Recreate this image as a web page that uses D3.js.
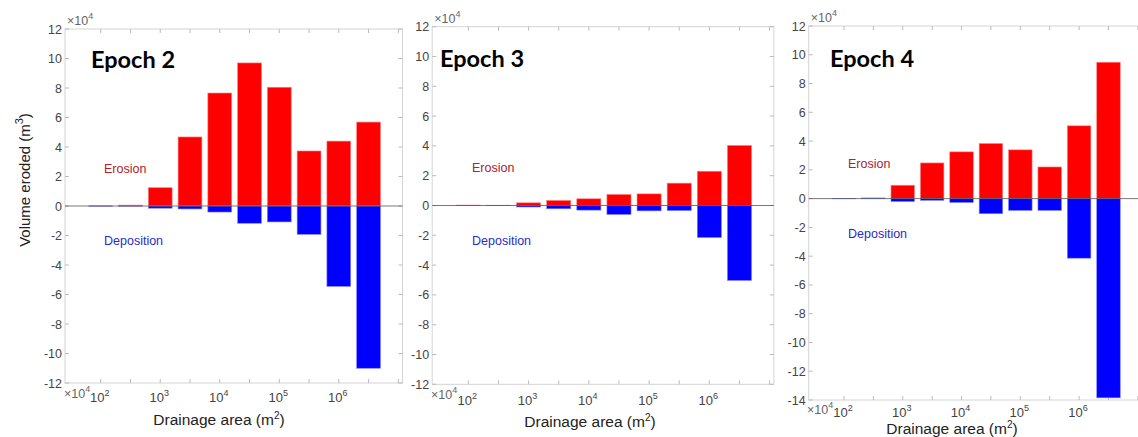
<!DOCTYPE html>
<html>
<head>
<meta charset="utf-8">
<script src="https://d3js.org/d3.v7.min.js"></script>
<style>
	body { margin: 0; background: #fff; }
	text { font-family: "Liberation Sans", Arial, sans-serif; }
</style>
</head>
<body>
<svg id="chart"></svg>
<script>
	// bin centres, as powers of ten (drainage area in m2)
	let binExponents = [2, 2.5, 3, 3.5, 4, 4.5, 5, 5.5, 6, 6.5]

	// volumes in units of 1e4 m3
	let erosionEpoch2 = [0.01, 0.06, 1.24, 4.68, 7.66, 9.7, 8.05, 3.73, 4.4, 5.69]
	let depositionEpoch2 = [-0.01, -0.01, -0.15, -0.2, -0.41, -1.17, -1.08, -1.92, -5.45, -11.0]

	let erosionEpoch3 = [0.03, 0.02, 0.18, 0.34, 0.45, 0.74, 0.78, 1.5, 2.3, 4.03]
	let depositionEpoch3 = [-0.01, -0.01, -0.1, -0.22, -0.31, -0.6, -0.36, -0.34, -2.15, -5.03]

	let erosionEpoch4 = [0.01, 0.05, 0.93, 2.48, 3.25, 3.83, 3.39, 2.2, 5.06, 9.48]
	let depositionEpoch4 = [-0.01, -0.01, -0.2, -0.12, -0.27, -1.05, -0.82, -0.82, -4.14, -13.85]

	let xTickExponents = [2, 3, 4, 5, 6]
	let xMinorExponents = [2, 2.5, 3, 3.5, 4, 4.5, 5, 5.5, 6, 6.5, 7]
	let yTicksEpoch2 = [-12, -10, -8, -6, -4, -2, 0, 2, 4, 6, 8, 10, 12]
	let yTicksEpoch4 = [-14, -12, -10, -8, -6, -4, -2, 0, 2, 4, 6, 8, 10, 12]

	let titles = ["Epoch 2", "Epoch 3", "Epoch 4"]

	let width = 1138
	let height = 437
	let svg = d3.select("#chart").attr("width", width).attr("height", height)

	let redFill = "#ff0000"
	let blueFill = "#0000ff"
	let boxColour = "#d4d4d4"
	let tickText = "#444"

	// layout of the three panels (pixels)
	let panels = [
		{ title: titles[0], ero: erosionEpoch2, dep: depositionEpoch2, yTicks: yTicksEpoch2, yMin: -12,
		  left: 65, right: 402.5, top: 29, bottom: 383, xLabelY: 397, xTitleX: 219, xTitleY: 425,
		  titleX: 91, titleY: 68, eroX: 104, eroY: 168, depX: 104, depY: 240, yLabel: true,
		  expBottomX: 64, expBottomY: 398 },
		{ title: titles[1], ero: erosionEpoch3, dep: depositionEpoch3, yTicks: yTicksEpoch2, yMin: -12,
		  left: 432.2, right: 773.8, top: 26.7, bottom: 384.3, xLabelY: 400, xTitleX: 590, xTitleY: 427,
		  titleX: 440, titleY: 67, eroX: 472, eroY: 167, depX: 472, depY: 240, yLabel: false,
		  expBottomX: 431, expBottomY: 399 },
		{ title: titles[2], ero: erosionEpoch4, dep: depositionEpoch4, yTicks: yTicksEpoch4, yMin: -14,
		  left: 808.7, right: 1142, top: 26, bottom: 400, xLabelY: 412, xTitleX: 952, xTitleY: 434,
		  titleX: 830, titleY: 67, eroX: 848, eroY: 163, depX: 848, depY: 233, yLabel: false,
		  expBottomX: 807, expBottomY: 414 }
	]

	panels.forEach(function(p){
		let xScale = d3.scaleLog()
			.domain([Math.pow(10, 1.4), Math.pow(10, 7.07)])
			.range([p.left, p.right])
		let yScale = d3.scaleLinear()
			.domain([p.yMin, 12])
			.range([p.bottom, p.top])

		let g = svg.append("g")

		// white plot area and box
		g.append("rect")
			.attr("x", p.left).attr("y", p.top)
			.attr("width", p.right - p.left).attr("height", p.bottom - p.top)
			.attr("fill", "#fff").attr("stroke", boxColour).attr("stroke-width", 1)

		let minor = xMinorExponents.filter(function(e){ return Math.pow(10, e) < xScale.domain()[1] })

		// x ticks, inward, top and bottom
		g.selectAll("line.xtick")
			.data(minor).enter().append("line")
			.attr("x1", function(e){ return xScale(Math.pow(10, e)) })
			.attr("x2", function(e){ return xScale(Math.pow(10, e)) })
			.attr("y1", p.bottom).attr("y2", p.bottom - 4)
			.attr("stroke", "#bbb")
		g.selectAll("line.xtickTop")
			.data(minor).enter().append("line")
			.attr("x1", function(e){ return xScale(Math.pow(10, e)) })
			.attr("x2", function(e){ return xScale(Math.pow(10, e)) })
			.attr("y1", p.top).attr("y2", p.top + 4)
			.attr("stroke", "#bbb")

		// y ticks, inward, left and right
		g.selectAll("line.ytick")
			.data(p.yTicks).enter().append("line")
			.attr("x1", p.left).attr("x2", p.left + 4)
			.attr("y1", function(d){ return yScale(d) })
			.attr("y2", function(d){ return yScale(d) })
			.attr("stroke", "#bbb")
		g.selectAll("line.ytickR")
			.data(p.yTicks).enter().append("line")
			.attr("x1", p.right).attr("x2", p.right - 4)
			.attr("y1", function(d){ return yScale(d) })
			.attr("y2", function(d){ return yScale(d) })
			.attr("stroke", "#bbb")

		// y tick labels
		g.selectAll("text.ylab")
			.data(p.yTicks).enter().append("text")
			.attr("x", p.left - 3)
			.attr("y", function(d){ return yScale(d) + 4.5 })
			.attr("text-anchor", "end")
			.attr("font-size", 12.5)
			.attr("fill", tickText)
			.text(function(d){ return d })

		// x tick labels 10^n
		let xl = g.selectAll("text.xlab")
			.data(xTickExponents).enter().append("text")
			.attr("x", function(e){ return xScale(Math.pow(10, e)) - 1 })
			.attr("y", p.xLabelY + 5)
			.attr("text-anchor", "middle")
			.attr("font-size", 13)
			.attr("fill", tickText)
		xl.append("tspan").text("10")
		xl.append("tspan").attr("dy", -6).attr("font-size", 9).text(function(e){ return e })

		// exponent labels x10^4
		let expTop = g.append("text")
			.attr("x", p.left + 2).attr("y", p.top - 4)
			.attr("font-size", 12.5).attr("fill", "#666")
		expTop.append("tspan").text("\u00d710")
		expTop.append("tspan").attr("dy", -6).attr("font-size", 9).text("4")
		let expBot = g.append("text")
			.attr("x", p.expBottomX).attr("y", p.expBottomY)
			.attr("font-size", 12.5).attr("fill", "#666")
		expBot.append("tspan").text("\u00d710")
		expBot.append("tspan").attr("dy", -6).attr("font-size", 9).text("4")

		// bars
		let halfWidth = 0.2
		g.selectAll("rect.ero")
			.data(p.ero).enter().append("rect")
			.attr("x", function(d, i){ return xScale(Math.pow(10, binExponents[i] - halfWidth)) })
			.attr("width", function(d, i){ return xScale(Math.pow(10, binExponents[i] + halfWidth)) - xScale(Math.pow(10, binExponents[i] - halfWidth)) })
			.attr("y", function(d){ return yScale(d) })
			.attr("height", function(d){ return yScale(0) - yScale(d) })
			.attr("fill", redFill)
			.attr("stroke", "#ff8080").attr("stroke-width", 0.6)
		g.selectAll("rect.dep")
			.data(p.dep).enter().append("rect")
			.attr("x", function(d, i){ return xScale(Math.pow(10, binExponents[i] - halfWidth)) })
			.attr("width", function(d, i){ return xScale(Math.pow(10, binExponents[i] + halfWidth)) - xScale(Math.pow(10, binExponents[i] - halfWidth)) })
			.attr("y", yScale(0))
			.attr("height", function(d){ return yScale(d) - yScale(0) })
			.attr("fill", blueFill)
			.attr("stroke", "#8080ff").attr("stroke-width", 0.6)

		// zero line
		g.append("line")
			.attr("x1", p.left).attr("x2", p.right)
			.attr("y1", yScale(0)).attr("y2", yScale(0))
			.attr("stroke", "#555").attr("stroke-width", 0.8)

		// titles and labels
		g.append("text")
			.attr("x", p.titleX).attr("y", p.titleY)
			.style("font-family", "Lato, 'Open Sans', sans-serif")
			.attr("font-weight", "bold").attr("font-size", 23.5)
			.attr("fill", "#000")
			.text(p.title)
		g.append("text")
			.attr("x", p.eroX).attr("y", p.eroY + 4.5)
			.attr("font-size", 12.5).attr("fill", "#b3202a")
			.text("Erosion")
		g.append("text")
			.attr("x", p.depX).attr("y", p.depY + 4.5)
			.attr("font-size", 12.5).attr("fill", "#2a2acb")
			.text("Deposition")

		let xt = g.append("text")
			.attr("x", p.xTitleX).attr("y", p.xTitleY)
			.attr("text-anchor", "middle")
			.attr("font-size", 15.5).attr("fill", "#222")
		xt.append("tspan").text("Drainage area (m")
		xt.append("tspan").attr("dy", -6).attr("font-size", 10).text("2")
		xt.append("tspan").attr("dy", 6).text(")")

		if (p.yLabel) {
			let yt = g.append("text")
				.attr("transform", "translate(" + 30 + "," + 180 + ") rotate(-90)")
				.attr("text-anchor", "middle")
				.attr("font-size", 15).attr("fill", "#222")
			yt.append("tspan").text("Volume eroded (m")
			yt.append("tspan").attr("dy", -7).attr("font-size", 11).text("3")
			yt.append("tspan").attr("dy", 7).text(")")
		}
	})
</script>
</body>
</html>
